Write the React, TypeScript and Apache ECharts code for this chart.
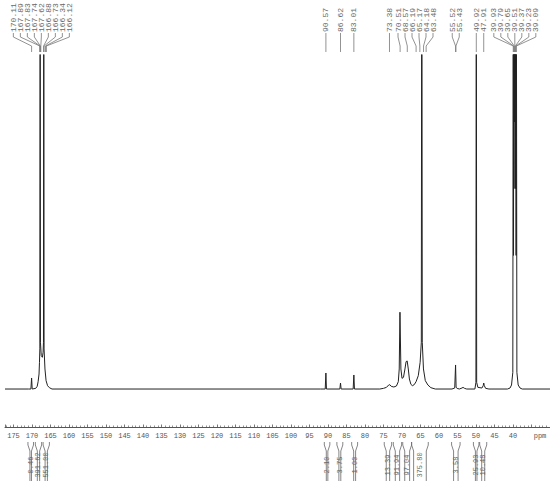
import React, { useEffect, useRef } from "react";
import * as echarts from "echarts";

// Spectrum outline: chemical shift (ppm) and intensity (top of plot = 100)
const spectrumPpm = [
  177.3, 171.0, 170.3, 170.11, 169.95, 169.0, 168.6, 168.35, 168.1, 167.98, 167.88, 167.8, 167.72,
  167.5, 167.2, 167.0, 166.9, 166.82, 166.74, 166.5, 166.2, 165.8, 165.3, 164.6, 92.0, 90.75, 90.57,
  90.42, 86.8, 86.62, 86.45, 83.2, 83.01, 82.85, 76.0, 75.0, 74.2, 73.6, 73.3, 72.9, 72.2, 71.5,
  71.0, 70.75, 70.55, 70.3, 70.0, 69.6, 69.2, 68.9, 68.6, 68.3, 68.0, 67.6, 67.2, 66.7, 66.2,
  65.6, 65.1, 64.78, 64.65, 64.52, 64.2, 63.7, 63.0, 62.2, 61.0, 56.5, 55.75, 55.52, 55.38, 55.1,
  54.5, 53.8, 53.5, 53.1, 52.5, 50.3, 50.02, 49.92, 49.82, 49.5, 48.4, 48.05, 47.91, 47.75, 47.4,
  46.5, 41.5, 40.8, 40.4, 40.05, 39.93, 39.86, 39.79, 39.72, 39.65, 39.58, 39.51, 39.44, 39.37,
  39.3, 39.23, 39.16, 39.09, 38.95, 38.6, 38.1, 37.5, 30.0,
];
const spectrumIntensity = [
  0, 0, 0, 3.3, 0, 0.2, 0.8, 2.2, 4.5, 8, 12, 140, 14,
  10, 9.5, 11, 14, 140, 12, 6, 2.5, 1, 0.4, 0, 0, 0, 4.8,
  0, 0, 1.8, 0, 0, 4.2, 0, 0, 0.2, 0.5, 1.2, 1.3, 0.8, 0.6, 0.9,
  2.2, 6, 23, 6, 3.2, 3.5, 6, 8.2, 8.4, 6, 3, 1.4, 1, 1.3, 2.2,
  4, 8, 14, 160, 14, 6, 2.5, 1.2, 0.4, 0, 0, 0.3, 7.2, 0.5, 0.2,
  0, 0.3, 0.5, 0.2, 0, 0, 2, 160, 2, 0.5, 0.3, 1, 1.8, 1, 0.2,
  0, 0, 0.3, 1.2, 5, 130, 40, 160, 60, 200, 80, 220, 80, 200,
  60, 160, 40, 130, 5, 1.2, 0.3, 0, 0,
];

// Peak picking labels (ppm)
const peakLabels = [
  170.11, 167.89, 167.83, 167.74, 167.62, 166.88, 166.73, 166.34, 166.12,
  90.57, 86.62, 83.01,
  73.38, 70.51, 68.57, 66.19, 65.17, 64.18, 63.48,
  55.52, 55.43, 49.92, 47.91,
  39.93, 39.79, 39.65, 39.51, 39.37, 39.23, 39.09,
];

// Integral regions (ppm) and values
const integralFrom = [171.1, 169.1, 167.0, 91.0, 87.6, 83.6, 74.8, 72.35, 69.8, 67.4, 56.6, 50.7, 49.0];
const integralTo = [169.6, 167.4, 165.3, 89.5, 86.0, 82.0, 72.8, 70.1, 67.4, 62.9, 54.3, 49.2, 47.1];
const integralValues = [0.46, 391.62, 551.0, 2.1, 3.75, 1.0, 13.39, 91.94, 97.04, 375.8, 3.58, 25.93, 10.48];

const MONO = "'Liberation Mono', 'DejaVu Sans Mono', monospace";

function spread(xs: number[], gap: number): number[] {
  type C = { s: number; e: number; c: number };
  let cl: C[] = xs.map((x, i) => ({ s: i, e: i, c: x }));
  let changed = true;
  while (changed) {
    changed = false;
    for (let i = 0; i < cl.length - 1; i++) {
      const a = cl[i];
      const b = cl[i + 1];
      const aR = a.c + ((a.e - a.s) / 2) * gap;
      const bL = b.c - ((b.e - b.s) / 2) * gap;
      if (bL - aR < gap) {
        let sum = 0;
        for (let k = a.s; k <= b.e; k++) sum += xs[k];
        const m: C = { s: a.s, e: b.e, c: sum / (b.e - a.s + 1) };
        cl.splice(i, 2, m);
        changed = true;
        break;
      }
    }
  }
  const out: number[] = [];
  cl.forEach((c) => {
    const n = c.e - c.s + 1;
    for (let k = 0; k < n; k++) out.push(c.c + (k - (n - 1) / 2) * gap);
  });
  return out;
}

export default function App() {
  const ref = useRef<HTMLDivElement>(null);
  useEffect(() => {
    if (!ref.current) return;
    const chart = echarts.init(ref.current, null, { renderer: "svg" });
    const data = spectrumPpm.map((p, i) => [p, spectrumIntensity[i]]);
    chart.setOption({
      animation: false,
      backgroundColor: "#ffffff",
      grid: { left: 5, right: 0, top: 55, bottom: 87.3, containLabel: false },
      xAxis: {
        type: "value",
        inverse: true,
        min: 30,
        max: 177.3,
        interval: 5,
        offset: 31.3,
        axisLine: { show: true, onZero: false, lineStyle: { color: "#555", width: 1 } },
        axisTick: { show: true, inside: true, length: 2.5, lineStyle: { color: "#555", width: 0.8 } },
        minorTick: { show: true, splitNumber: 5, length: 1.5, lineStyle: { color: "#777", width: 0.8 } },
        splitLine: { show: false },
        axisLabel: {
          showMinLabel: false,
          showMaxLabel: false,
          margin: 5,
          fontFamily: MONO,
          fontSize: 7,
          color: "#555",
          formatter: (v: number) => (v === 35 || v === 30 ? "" : String(v)),
        },
      },
      yAxis: { type: "value", min: -2, max: 100, show: false },
      series: [
        {
          type: "line",
          data,
          symbol: "none",
          clip: true,
          lineStyle: { color: "#222", width: 1 },
        },
      ],
    });

    const px = (p: number) => chart.convertToPixel({ xAxisIndex: 0 }, p) as number;
    const graphics: any[] = [];

    // Peak labels
    const peakX = peakLabels.map(px);
    const order = peakX.map((x, i) => i).sort((a, b) => peakX[a] - peakX[b]);
    const sortedX = order.map((i) => peakX[i]);
    const labX = spread(sortedX, 7);
    order.forEach((idx, k) => {
      const x0 = labX[k];
      const x1 = peakX[idx];
      graphics.push({
        type: "polyline",
        silent: true,
        shape: { points: [[x0, 33], [x0, 37], [x1, 46], [x1, 52]] },
        style: { stroke: "#777", lineWidth: 0.8, fill: "none" },
      });
      graphics.push({
        type: "text",
        silent: true,
        x: x0,
        y: 32,
        rotation: Math.PI / 2,
        style: {
          text: peakLabels[idx].toFixed(2),
          fontFamily: MONO,
          fontSize: 8,
          fill: "#666",
          align: "left",
          verticalAlign: "middle",
        },
      });
    });

    // Integral brackets
    integralFrom.forEach((f, i) => {
      const a = px(f);
      const b = px(integralTo[i]);
      const ins = 2;
      graphics.push({
        type: "polyline",
        silent: true,
        shape: { points: [[a, 442], [a, 445], [a + ins, 451], [a + ins, 481]] },
        style: { stroke: "#666", lineWidth: 0.8, fill: "none" },
      });
      graphics.push({
        type: "polyline",
        silent: true,
        shape: { points: [[b, 442], [b, 445], [b - ins, 451], [b - ins, 481]] },
        style: { stroke: "#666", lineWidth: 0.8, fill: "none" },
      });
      graphics.push({
        type: "text",
        silent: true,
        x: (a + b) / 2,
        y: 465,
        rotation: Math.PI / 2,
        style: {
          text: integralValues[i].toFixed(2),
          fontFamily: MONO,
          fontSize: 7,
          fill: "#666",
          align: "center",
          verticalAlign: "middle",
        },
      });
    });

    graphics.push({
      type: "text",
      silent: true,
      x: 540,
      y: 436,
      style: {
        text: "ppm",
        fontFamily: MONO,
        fontSize: 7,
        fill: "#555",
        align: "center",
        verticalAlign: "middle",
      },
    });

    chart.setOption({ graphic: graphics });
    return () => chart.dispose();
  }, []);
  return (
    <div
      ref={ref}
      style={{ position: "fixed", left: 0, top: 0, width: 550, height: 483, background: "#fff" }}
    />
  );
}
